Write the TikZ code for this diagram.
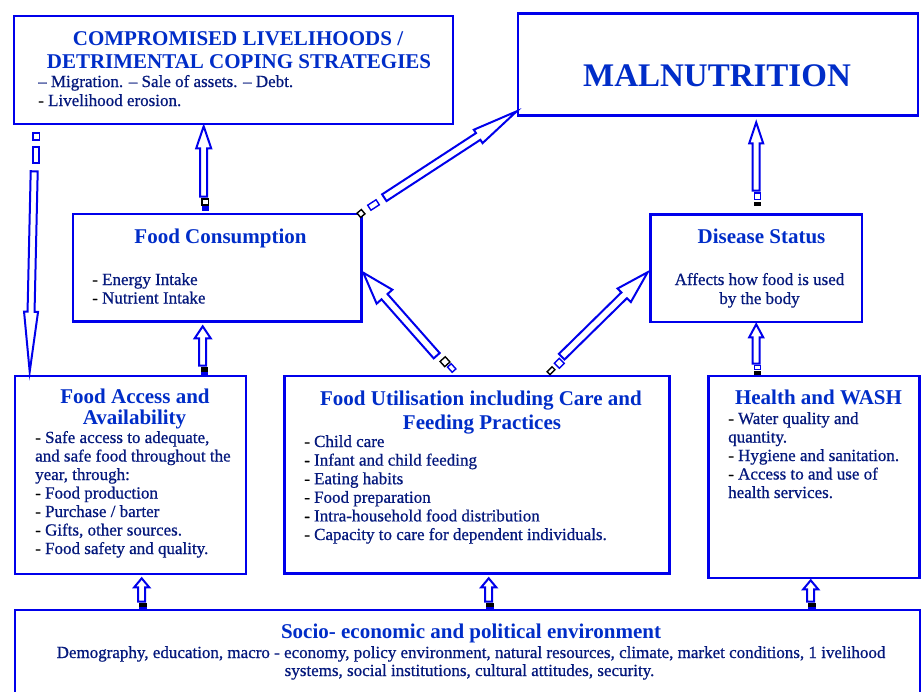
\documentclass[tikz,border=0pt]{standalone}
\usepackage{fontspec}
\setmainfont{Liberation Serif}
\newfontfamily\bodyfont{Liberation Serif}[FakeBold=0.7]
\usetikzlibrary{calc,fit}
\definecolor{boxblue}{RGB}{0,0,235}
\definecolor{ttlblue}{RGB}{0,45,200}
\definecolor{txtblue}{RGB}{5,25,125}
\tikzset{
 box/.style={draw=boxblue, line width=2.6pt, inner sep=0pt, fill=white},
 barrow/.style={draw=boxblue, line width=2pt, fill=white, line join=miter},
 ttl/.style={font=\fontsize{21}{23}\selectfont\bfseries, text=ttlblue, inner sep=0pt, anchor=base},
 txt/.style={font=\fontsize{17}{18.5}\selectfont\bodyfont, text=txtblue, inner sep=0pt, anchor=base west},
 txtc/.style={txt, anchor=base},
 mk/.style={draw=black, line width=1.4pt, fill=white},
 mkb/.style={draw=boxblue, line width=1.4pt, fill=white},
}
\newcommand\hy{{\color{black}-}\ }
\newcommand\blockarrow[5]{%
  \coordinate (bah) at ($(#2)!#5!(#1)$);
  \draw[barrow] ($(#1)!#3!90:(#2)$) -- ($(bah)!#3!90:(#2)$) -- ($(bah)!#4!90:(#2)$) -- (#2) -- ($(bah)!#4!-90:(#2)$) -- ($(bah)!#3!-90:(#2)$) -- ($(#1)!#3!-90:(#2)$) -- cycle;}
\begin{document}
\begin{tikzpicture}[x=1pt,y=-1pt]
\useasboundingbox (0,0) rectangle (923,691);
\clip (0,0) rectangle (923,691);
\fill[white] (0,0) rectangle (923,691);

% boxes
\node[box, fit={(14,16) (453,124)}] (comp) {};
\node[box, fit={(518,13.5) (918,115.5)}] (mal) {};
\node[box, fit={(73,214) (361.5,321.5)}] (fc) {};
\node[box, fit={(650.5,214.5) (862,322)}] (dis) {};
\node[box, fit={(15,376) (246,574)}] (fa) {};
\node[box, fit={(284.5,376) (669.5,573.5)}] (fu) {};
\node[box, fit={(708.5,376) (919.5,578)}] (health) {};
\node[box, fit={(15,610) (920,705)}] (socio) {};

% texts: compromised
\node[ttl] (compT1) at (238,45) {COMPROMISED LIVELIHOODS /};
\node[ttl] (compT2) at (239,68) {DETRIMENTAL COPING STRATEGIES};
\node[txt] (compL1) at (38,87) {– Migration. – Sale of assets. – Debt.};
\node[txt] (compL2) at (38,106) {\hy Livelihood erosion.};
% malnutrition
\node[ttl, font=\fontsize{33}{36}\selectfont\bfseries] (malT) at (717,86) {MALNUTRITION};
% food consumption
\node[ttl] (fcT) at (220.5,243) {Food Consumption};
\node[txt] (fcL1) at (92,285) {\hy Energy Intake};
\node[txt] (fcL2) at (92,303.5) {\hy Nutrient Intake};
% disease
\node[ttl] (disT) at (761.5,243) {Disease Status};
\node[txtc] (disL1) at (759.5,285) {Affects how food is used};
\node[txtc] (disL2) at (759.5,304) {by the body};
% food access
\node[ttl] (faT1) at (135,403) {Food Access and};
\node[ttl] (faT2) at (134.5,424) {Availability};
\foreach \t [count=\i from 0] in {{\hy Safe access to adequate,},{and safe food throughout the},{year, through:},{\hy Food production},{\hy Purchase / barter},{\hy Gifts, other sources.},{\hy Food safety and quality.}}
  \node[txt] (faL\i) at (35,443+18.5*\i) {\t};
% food utilisation
\node[ttl] (fuT1) at (481,405) {Food Utilisation including Care and};
\node[ttl] (fuT2) at (482,429) {Feeding Practices};
\foreach \t [count=\i from 0] in {{\hy Child care},{\hy Infant and child feeding},{\hy Eating habits},{\hy Food preparation},{\hy Intra-household food distribution},{\hy Capacity to care for dependent individuals.}}
  \node[txt] (fuL\i) at (304,447+18.6*\i) {\t};
% health
\node[ttl] (hwT) at (818.5,404) {Health and WASH};
\foreach \t [count=\i from 0] in {{\hy Water quality and},{quantity.},{\hy Hygiene and sanitation.},{\hy Access to and use of},{health services.}}
  \node[txt] (hwL\i) at (728,424+18.5*\i) {\t};
% socio
\node[ttl] (soT) at (471,638) {Socio- economic and political environment};
\node[txtc] (soL1) at (471,658) {Demography, education, macro - economy, policy environment, natural resources, climate, market conditions, 1 ivelihood};
\node[txtc] (soL2) at (469.5,676) {systems, social institutions, cultural attitudes, security.};

% arrow end points
\coordinate (a1s) at ($(fc.north west)+(132,-16)$);
\coordinate (a1t) at ($(comp.south west)+(191,1)$);
\coordinate (a2s) at ($(fa.north west)+(189,-9)$);
\coordinate (a2t) at ($(fc.south west)+(131,3.5)$);
\coordinate (a3s) at ($(dis.north west)+(107,-22.5)$);
\coordinate (a3t) at ($(mal.south west)+(239.5,5.5)$);
\coordinate (a4s) at ($(health.north west)+(49,-11)$);
\coordinate (a4t) at ($(dis.south west)+(107,1)$);
\coordinate (a5s) at ($(socio.north west)+(128,-7)$);
\coordinate (a5t) at ($(fa.south west)+(128,3)$);
\coordinate (a6s) at ($(socio.north west)+(475,-7)$);
\coordinate (a6t) at ($(fu.south west)+(205.5,3.5)$);
\coordinate (a7s) at ($(socio.north west)+(797,-7)$);
\coordinate (a7t) at ($(health.south west)+(103.5,1)$);
\coordinate (a8s) at ($(fu.north west)+(153.5,-19)$);
\coordinate (a8t) at ($(fc.north east)+(0.5,60)$);
\coordinate (a9s) at ($(fu.north west)+(278.5,-18)$);
\coordinate (a9t) at ($(dis.north west)+(-1.5,59)$);
\coordinate (a10s) at ($(fc.north east)+(21.5,-15)$);
\coordinate (a10t) at ($(mal.south west)+(0,-5.5)$);
\coordinate (a11s) at ($(comp.south west)+(21.5,46)$);
\coordinate (a11t) at ($(fa.north west)+(16,-3)$);

% block arrows
\blockarrow{a1s}{a1t}{3.5pt}{7.5pt}{22pt}
\blockarrow{a2s}{a2t}{3.5pt}{8pt}{12pt}
\blockarrow{a3s}{a3t}{3.5pt}{7pt}{21pt}
\blockarrow{a4s}{a4t}{3.5pt}{7pt}{13pt}
\blockarrow{a5s}{a5t}{3.5pt}{7.5pt}{9pt}
\blockarrow{a6s}{a6t}{3.5pt}{7.5pt}{9pt}
\blockarrow{a7s}{a7t}{3.5pt}{7.5pt}{9pt}
\blockarrow{a8s}{a8t}{4pt}{10.5pt}{32pt}
\blockarrow{a9s}{a9t}{4pt}{9.5pt}{33pt}
\blockarrow{a10s}{a10t}{4pt}{8pt}{46pt}
\blockarrow{a11s}{a11t}{3.5pt}{7pt}{60pt}

% small connection markers
\draw[mk] (202,199) rectangle (208.5,205);
\fill[boxblue] (201.5,206) rectangle (208.5,210.5);
\fill[black] (200.5,367) rectangle (207.5,371.5);
\fill[boxblue] (200.5,371.5) rectangle (207.5,375);
\draw[mkb] (754.5,193) rectangle (760.5,199.5);
\fill[black] (754,202) rectangle (761,206);
\draw[mkb, line width=1pt] (754.5,365.5) rectangle (760.5,369);
\fill[black] (754,370.5) rectangle (761,375);
\foreach \x in {143,490,812}{
  \fill[black] (\x-4,603) rectangle (\x+4,607);
  \fill[boxblue] (\x-4,607) rectangle (\x+4,610);
}
\draw[mk, shift={(445,361.7)}, rotate=42] (-3.5,-3.5) rectangle (3.5,3.5);
\draw[mkb, shift={(451.7,368)}, rotate=42] (-2.5,-3.5) rectangle (2.5,3.5);
\draw[mkb, shift={(559.3,363.3)}, rotate=45] (-3.5,-3.5) rectangle (3.5,3.5);
\draw[mk, shift={(551,370.7)}, rotate=45] (-3.5,-2) rectangle (3.5,2);
\draw[mk, shift={(361,213.5)}, rotate=40] (-2.8,-2.8) rectangle (2.8,2.8);
\draw[mkb, shift={(373.5,205)}, rotate=33] (-5,-3) rectangle (5,3);
\draw[mkb] (33,133) rectangle (39.5,140);
\draw[mkb] (33,147) rectangle (39,163);
\end{tikzpicture}
\end{document}
